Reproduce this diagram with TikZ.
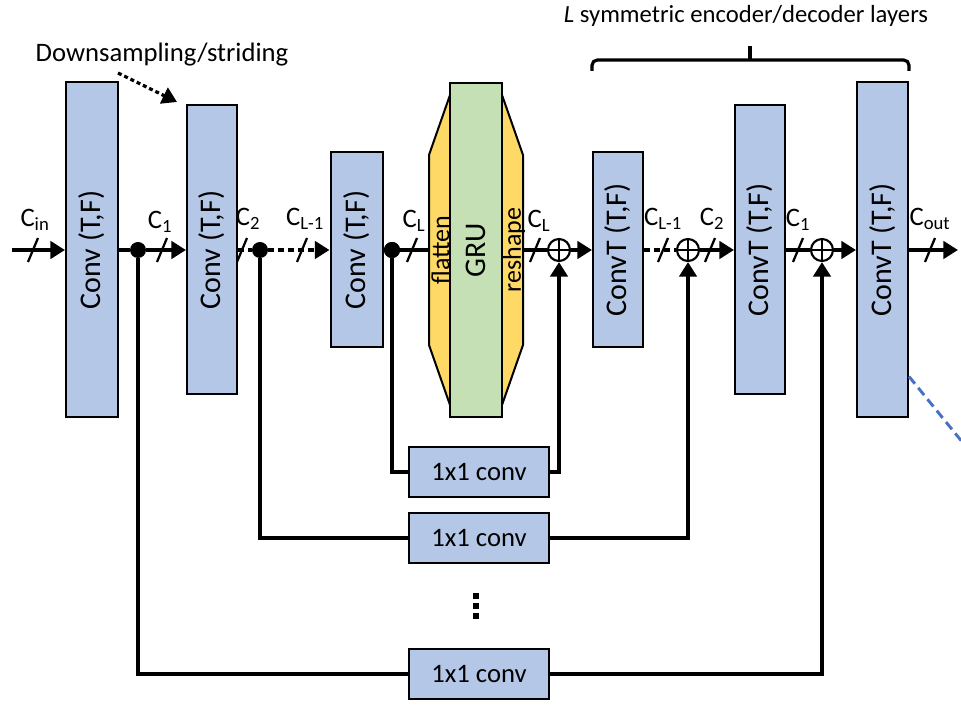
\documentclass[tikz,border=0pt]{standalone}
\usepackage{fontspec}
\setmainfont{Carlito}
\usepackage{tikz}
\usetikzlibrary{calc,arrows.meta}
\definecolor{convblue}{HTML}{B4C7E7}
\definecolor{grugreen}{HTML}{C5E0B4}
\definecolor{flatyellow}{HTML}{FFD966}
\definecolor{tailblue}{HTML}{4472C4}
\newcommand*{\diagfont}{\fontsize{20}{24}\selectfont}
\newcommand*{\boxfont}{\fontsize{22.5}{27}\selectfont}
\newcommand*{\SlashMarks}[1]{% #1 = list of x positions
\foreach \x in {#1} {
\draw [line width=1.7pt]
(\x-5,262) -- (\x+5,238);
}%
}
\newcommand*{\ChannelLabels}[1]{% #1 = list of x/y/label
\foreach \x/\y/\lbl in {#1} {
\node [draw=none, font=\diagfont] (chan-\x)
at (\x,\y) {\lbl};
}%
}
\tikzset{
  convbox/.style 2 args={draw, line width=1.5pt, fill=convblue,
    minimum width=#1, minimum height=#2, inner sep=0pt, font=\boxfont},
  skipbox/.style={draw, line width=1.5pt, fill=convblue,
    minimum width=105pt, minimum height=37.5pt, inner sep=0pt, font=\diagfont},
  mainline/.style={line width=3.6pt},
  dashline/.style={line width=3.6pt, dash pattern=on 4.5pt off 3pt},
  arrowed/.style={-{Triangle[length=11pt,width=13pt]}},
  junction/.style={circle, fill, inner sep=0pt, minimum size=12pt},
  adder/.style={circle, draw, line width=1.6pt, fill=white, inner sep=0pt,
    minimum size=16.5pt,
    path picture={\draw[line width=1.6pt]
      (path picture bounding box.north) -- (path picture bounding box.south)
      (path picture bounding box.west) -- (path picture bounding box.east);}},
}

\begin{document}
\begin{tikzpicture}[x=0.75pt,y=-0.75pt]

            \useasboundingbox (0,0) rectangle (961,705);

            \node [convbox={39pt}{251.25pt}] (enc1) at (92,250) {\rotatebox{90}{Conv (T,F)}};
            \node [convbox={37.5pt}{216.75pt}] (enc2) at (212,250) {\rotatebox{90}{Conv (T,F)}};
            \node [convbox={39pt}{146.25pt}] (enc3) at (356.5,250) {\rotatebox{90}{Conv (T,F)}};
            \node [convbox={37.5pt}{146.25pt}] (dec1) at (618,250) {\rotatebox{90}{ConvT (T,F)}};
            \node [convbox={37.5pt}{216.75pt}] (dec2) at (760,250) {\rotatebox{90}{ConvT (T,F)}};
            \node [convbox={38.25pt}{251.25pt}] (dec3) at (882.5,250) {\rotatebox{90}{ConvT (T,F)}};

            \draw [line width=1.5pt, fill=flatyellow] (450,95) -- (429,155) -- (429,345) -- (450,405)
                -- (502,405) -- (523,345) -- (523,155) -- (502,95) -- cycle;
            \node [draw, line width=1.5pt, fill=grugreen, minimum width=39pt, minimum height=250.5pt,
                inner sep=0pt, font=\boxfont] (gru) at (476,250) {\rotatebox{90}{GRU}};
            \node [font=\fontsize{19.5}{23}\selectfont, inner sep=0pt] (flatten) at (440.5,250) {\rotatebox{90}{flatten}};
            \node [font=\fontsize{19.5}{23}\selectfont, inner sep=0pt] (reshape) at (514,250) {\rotatebox{90}{reshape}};

            \node [skipbox] (skip1) at (479,472) {1x1 conv};
            \node [skipbox] (skip2) at (479,538) {1x1 conv};
            \node [skipbox] (skip3) at (479,674) {1x1 conv};

            \node [junction] (j1) at (138,250) {};
            \node [junction] (j2) at (260,250) {};
            \node [junction] (j3) at (392,250) {};
            \node [adder] (add1) at (559,250) {};
            \node [adder] (add2) at (688,250) {};
            \node [adder] (add3) at (822,250) {};

            \coordinate (in) at (12,250);
            \coordinate (out) at (958,250);
            \coordinate (flatIn) at (429,250);
            \coordinate (reshOut) at (523,250);

            \draw [mainline, arrowed] (in) -- (enc1);
            \draw [mainline] (enc1) -- (j1);
            \draw [mainline, arrowed] (j1) -- (enc2);
            \draw [dashline] (enc2) -- (j2);
            \draw [dashline, arrowed] (j2) -- (enc3);
            \draw [mainline] (enc3) -- (flatIn);
            \node [junction] at (j3) {};
            \draw [mainline] (reshOut) -- (add1);
            \draw [mainline, arrowed] (add1) -- (dec1);
            \draw [dashline] (dec1) -- (add2);
            \draw [mainline, arrowed] (add2) -- (dec2);
            \draw [mainline] (dec2) -- (add3);
            \draw [mainline, arrowed] (add3) -- (dec3);
            \draw [mainline, arrowed] (dec3) -- (out);

            \draw [mainline] (j3) |- (skip1);
            \draw [mainline, arrowed] (skip1) -| (add1);
            \draw [mainline] (j2) |- (skip2);
            \draw [mainline, arrowed] (skip2) -| (add2);
            \draw [mainline] (j1) |- (skip3);
            \draw [mainline, arrowed] (skip3) -| (add3);

            \foreach \y in {596,606,616} {
                \fill (473,\y-3) rectangle (479,\y+3);
            }

            \SlashMarks{33,162,242,302,412,535,663,710,798,930}
            \ChannelLabels{35/220/{C\textsubscript{in}},160/222/{C\textsubscript{1}},
                248/219/{C\textsubscript{2}},305/219/{C\textsubscript{L-1}},
                414/221/{C\textsubscript{L}},539/221/{C\textsubscript{L}},
                663/219/{C\textsubscript{L-1}},712/219/{C\textsubscript{2}},
                798/220/{C\textsubscript{1}},930/219/{C\textsubscript{out}}}

            \node [font=\diagfont] (downs) at (162,55) {Downsampling/striding};
            \coordinate (dsStart) at (118,73);
            \coordinate (dsEnd) at (177,102);
            \draw [line width=2.4pt, dash pattern=on 3pt off 2.2pt, arrowed] (dsStart) -- (dsEnd);

            \node [font=\fontsize{18.5}{22}\selectfont] (layers) at (746,16) {\textit{L} symmetric encoder/decoder layers};
            \draw [line width=2.4pt, rounded corners=4pt] (592,71) -- (592,60) -- (909,60) -- (909,71);
            \draw [line width=2.4pt] (750,60) -- (750,46);

            \coordinate (tailEnd) at (985,470);
            \draw [line width=2.2pt, tailblue, dash pattern=on 7pt off 4pt]
                ([yshift=31.5pt]dec3.south east) -- (tailEnd);

        \end{tikzpicture}
\end{document}
